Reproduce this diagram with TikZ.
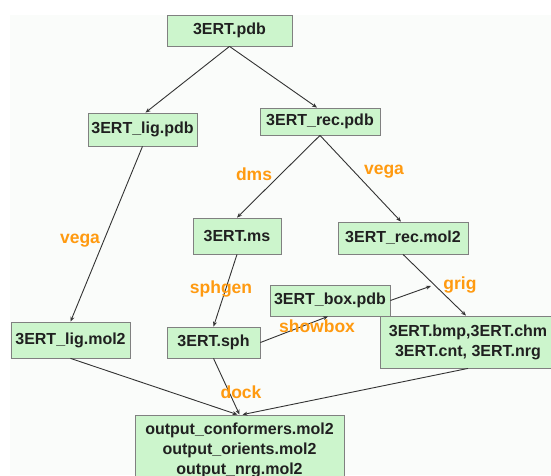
\documentclass[tikz,border=0pt]{standalone}
\usepackage{fontspec}
\setmainfont{Liberation Sans}
\usetikzlibrary{arrows.meta}
\definecolor{boxfill}{HTML}{CCF5CC}
\definecolor{boxline}{HTML}{808080}
\definecolor{lbl}{HTML}{FF9A10}
\definecolor{bgc}{HTML}{FAFCFA}
\definecolor{txt}{HTML}{202020}
\begin{document}
\begin{tikzpicture}[x=1pt,y=-1pt,
  box/.style={draw=boxline, fill=boxfill, line width=0.8pt, text=txt, font=\fontsize{16}{20}\selectfont\bfseries, align=center, inner sep=0pt},
  lab/.style={text=lbl, font=\fontsize{17.5}{20}\selectfont\bfseries, inner sep=0pt, anchor=base},
  conn/.style={draw=black!80, line width=0.9pt, -{Stealth[length=5pt,width=4pt]}}]
\useasboundingbox (0,0) rectangle (551,475);
\clip (0,0) rectangle (551,475);
\fill[white] (0,0) rectangle (551,475);
\fill[bgc] (10,15) rectangle (551,475);
% boxes
\node[box, minimum width=125pt, minimum height=31pt] (pdb) at (229.5,30.5) {3ERT.pdb};
\node[box, minimum width=109pt, minimum height=33pt] (ligpdb) at (142.5,129.5) {3ERT\_lig.pdb};
\node[box, minimum width=120pt, minimum height=27pt] (recpdb) at (320,121.5) {3ERT\_rec.pdb};
\node[box, minimum width=88pt, minimum height=36pt] (ms) at (237,236) {3ERT.ms};
\node[box, minimum width=130pt, minimum height=32pt] (recmol) at (403,238) {3ERT\_rec.mol2};
\node[box, minimum width=120pt, minimum height=31pt] (boxpdb) at (330,300.5) {3ERT\_box.pdb};
\node[box, minimum width=119pt, minimum height=36pt] (ligmol) at (70.5,340) {3ERT\_lig.mol2};
\node[box, minimum width=93pt, minimum height=31pt] (sph) at (213.5,342.5) {3ERT.sph};
\node[box, minimum width=176pt, minimum height=52pt] (grid) at (468,342) {3ERT.bmp,3ERT.chm\\3ERT.cnt, 3ERT.nrg};
\node[box, minimum width=209pt, minimum height=70pt] (out) at (239.5,450) {output\_conformers.mol2\\output\_orients.mol2\\output\_nrg.mol2};
\coordinate (gtip) at (431,286);
% connectors
\draw[conn] (pdb.south) -- ([xshift=3pt]ligpdb.north);
\draw[conn] (pdb.south) -- ([xshift=-3pt]recpdb.north);
\draw[conn] (ligpdb.south) -- (ligmol.north);
\draw[conn] (recpdb.south) -- (ms.north);
\draw[conn] (recpdb.south) -- ([xshift=-2pt]recmol.north);
\draw[conn] (ms.south) -- (sph.north);
\draw[conn] (recmol.south) -- ([xshift=-2pt]grid.north);
\draw[conn] (boxpdb.east) -- (gtip);
\draw[conn] (sph.east) -- ([xshift=-2pt]boxpdb.south);
\draw[conn] (ligmol.south) -- ([xshift=-2pt]out.north);
\draw[conn] (sph.south) -- (out.north);
\draw[conn] (grid.south) -- ([xshift=3pt]out.north);
% labels
\node[lab] (l1) at (80,243) {vega};
\node[lab] (l2) at (254,180) {dms};
\node[lab] (l3) at (384,174) {vega};
\node[lab] (l4) at (221,293) {sphgen};
\node[lab] (l5) at (460,289) {grig};
\node[lab] (l6) at (317,332) {showbox};
\node[lab] (l7) at (241,398) {dock};
\end{tikzpicture}
\end{document}
